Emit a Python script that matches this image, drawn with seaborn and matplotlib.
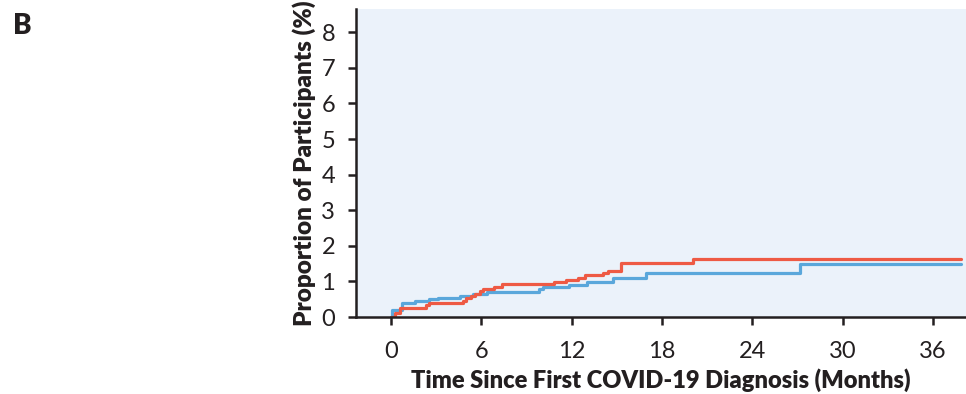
import matplotlib
matplotlib.use("Agg")
import matplotlib.pyplot as plt
import seaborn as sns
import pandas as pd

# Step curve data (months, cumulative proportion %)
red_months = [0, 0.25, 0.6, 2.3, 2.5, 4.8, 5.0, 5.3, 5.6, 5.9, 6.1, 6.85, 7.35, 10.8, 11.6, 12.4, 12.9, 14.1, 14.4, 15.3, 20.05, 37.9]
red_values = [0, 0.12, 0.24, 0.34, 0.40, 0.46, 0.52, 0.59, 0.66, 0.73, 0.79, 0.85, 0.92, 0.97, 1.04, 1.10, 1.18, 1.24, 1.30, 1.51, 1.62, 1.62]

blue_months = [0, 0.05, 0.7, 1.6, 2.5, 3.1, 4.6, 5.45, 6.35, 9.8, 10.1, 11.8, 13.0, 14.75, 16.95, 27.2, 37.9]
blue_values = [0, 0.20, 0.40, 0.45, 0.50, 0.53, 0.59, 0.66, 0.71, 0.78, 0.83, 0.90, 0.97, 1.10, 1.24, 1.48, 1.48]

x_ticks = [0, 6, 12, 18, 24, 30, 36]
y_ticks = [0, 1, 2, 3, 4, 5, 6, 7, 8]

sns.set_style("ticks")
plt.rcParams['font.family'] = ['Lato', 'DejaVu Sans']

fig = plt.figure(figsize=(9.66, 3.94), dpi=100)
ax = fig.add_axes([0.3685, 0.1954, 0.6315, 0.7816])
ax.set_facecolor("#EBF2FA")

df_blue = pd.DataFrame({"month": blue_months, "value": blue_values})
df_red = pd.DataFrame({"month": red_months, "value": red_values})

sns.lineplot(data=df_blue, x="month", y="value", ax=ax, color="#5AA7DB",
             drawstyle="steps-post", linewidth=2.3, estimator=None, sort=False)
sns.lineplot(data=df_red, x="month", y="value", ax=ax, color="#EE5A44",
             drawstyle="steps-post", linewidth=2.3, estimator=None, sort=False)

ax.set_xlim(-2.33, 38.2)
ax.set_ylim(0, 8.65)
ax.set_xticks(x_ticks)
ax.set_yticks(y_ticks)
ax.tick_params(axis="both", labelsize=17, length=6, width=1.8, color="#231F20",
               labelcolor="#231F20")
ax.tick_params(axis="x", pad=11)
ax.tick_params(axis="y", pad=9)
for s in ["top", "right"]:
    ax.spines[s].set_visible(False)
for s in ["left", "bottom"]:
    ax.spines[s].set_linewidth(1.8)
    ax.spines[s].set_color("#231F20")

ax.set_xlabel("Time Since First COVID-19 Diagnosis (Months)", fontsize=17,
              fontweight="heavy", color="#231F20", labelpad=5)
ax.set_ylabel("Proportion of Participants (%)", fontsize=17.5,
              fontweight="heavy", color="#231F20", labelpad=4)

fig.text(0.013, 0.935, "B", fontsize=20, fontweight="heavy", color="#231F20",
         ha="left", va="center")

fig.savefig("out.png", dpi=100)
